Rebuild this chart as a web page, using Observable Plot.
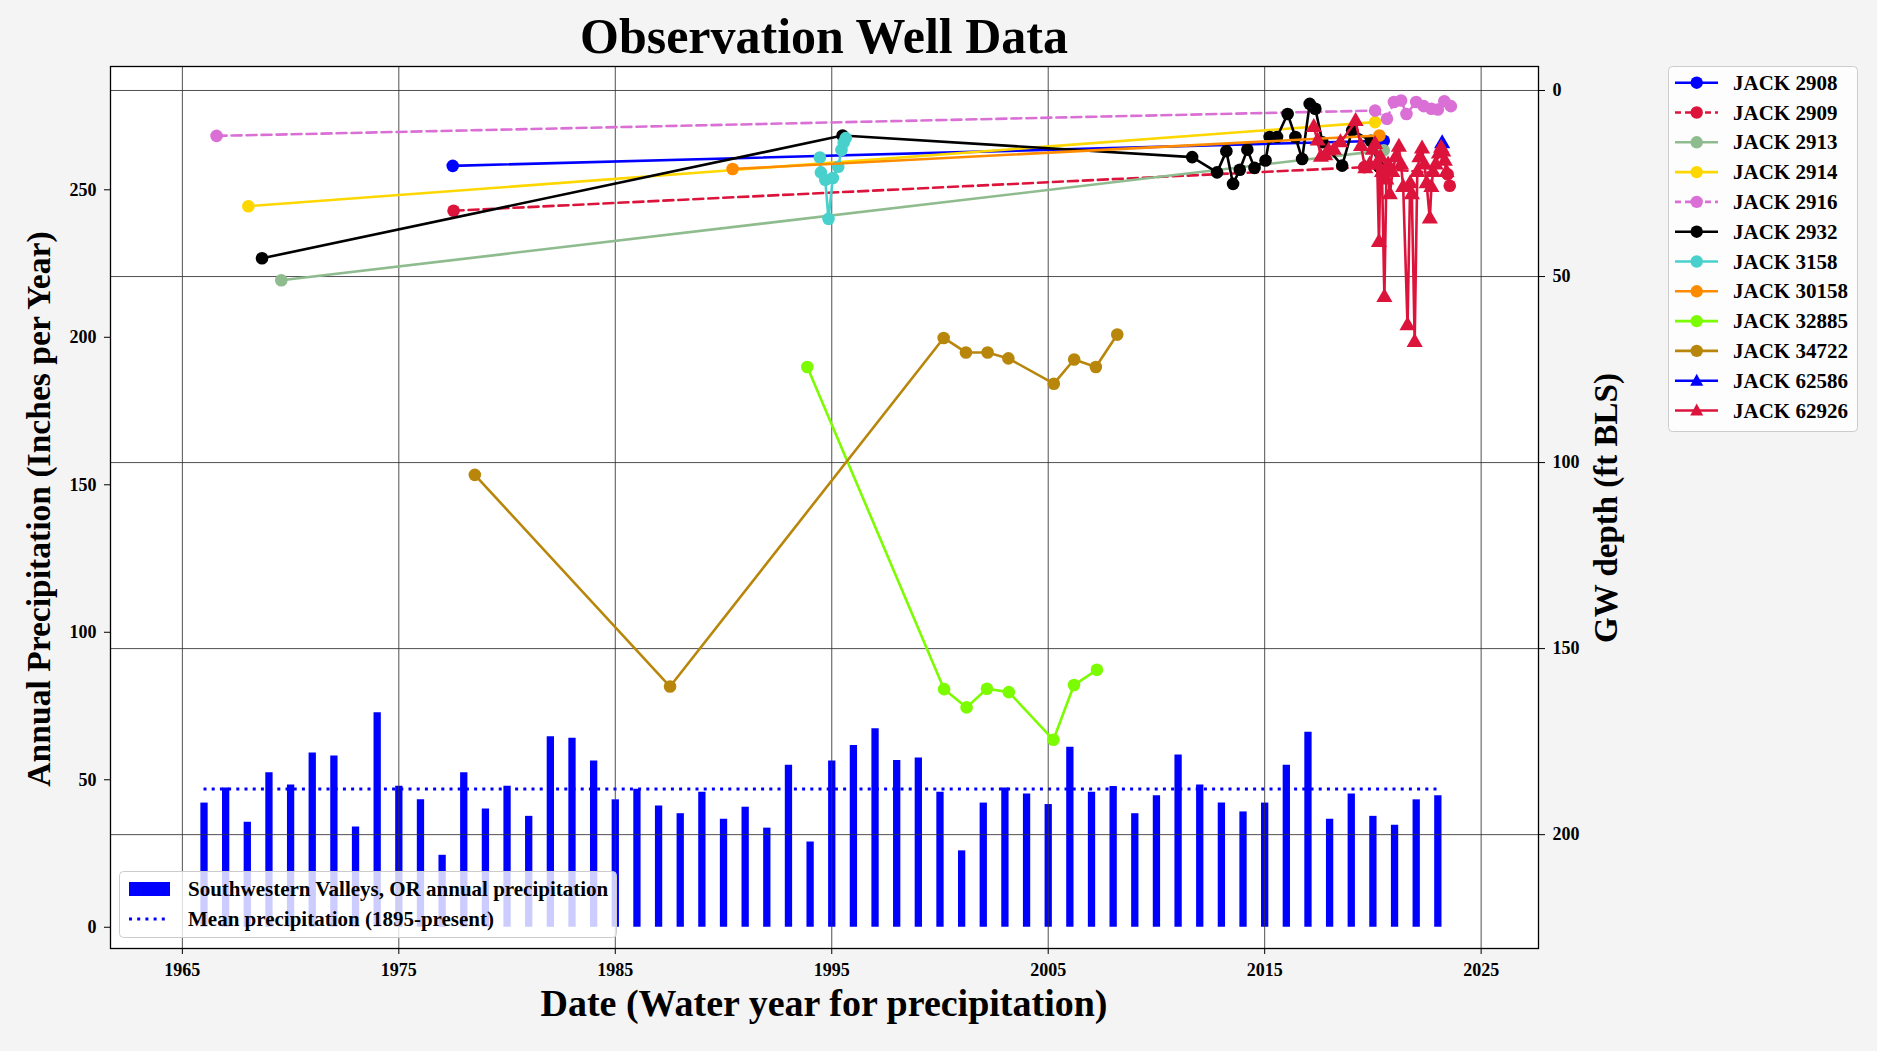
<!DOCTYPE html>
<html><head><meta charset="utf-8">
<script src="https://cdn.jsdelivr.net/npm/d3@7"></script>
<script src="https://cdn.jsdelivr.net/npm/@observablehq/plot@0.6"></script>
<style>
html,body{margin:0;padding:0;background:#f4f4f4;}
#wrap{position:relative;width:1877px;height:1051px;background:#f4f4f4;overflow:hidden;}
#wrap > svg{position:absolute;left:0;top:0;}
</style></head>
<body><div id="wrap"></div>
<script>
// ---------- data ----------
const precipYears = [1966,1967,1968,1969,1970,1971,1972,1973,1974,1975,1976,1977,1978,1979,1980,1981,1982,1983,1984,1985,1986,1987,1988,1989,1990,1991,1992,1993,1994,1995,1996,1997,1998,1999,2000,2001,2002,2003,2004,2005,2006,2007,2008,2009,2010,2011,2012,2013,2014,2015,2016,2017,2018,2019,2020,2021,2022,2023];
const precipValues = [42.1,47.2,35.6,52.4,48.2,59.1,58.1,34.0,72.7,47.8,
  43.2,24.4,52.4,40.1,47.8,37.6,64.6,64.1,56.4,43.2,
  46.8,41.1,38.5,45.8,36.6,40.7,33.6,54.9,28.9,56.4,
  61.6,67.3,56.5,57.4,45.8,25.9,42.1,47.2,45.2,41.6,
  61.0,45.8,47.7,38.5,44.6,58.4,48.2,42.1,39.1,42.1,
  54.9,66.1,36.6,45.2,37.6,34.6,43.2,44.6];
const meanPrecip = 46.9;

// well data: [decimal year, depth ft BLS]
const jack2908 = [[1977.49,20.25],[2020.5,13.5]];
const jack2909 = [[1977.53,32.3],[2019.6,20.6],[2023.45,22.5],[2023.55,25.6]];
const jack2913 = [[1969.57,51.0],[2020.5,16.1]];
const jack2914 = [[1968.05,31.1],[2020.1,8.5]];
const jack2916 = [[1966.58,12.2],[2020.1,5.4],[2020.65,7.6],[2020.97,3.1],[2021.3,2.7],[2021.55,6.3],[2022.0,3.1],[2022.35,4.2],[2022.7,4.9],[2023.0,5.1],[2023.3,2.9],[2023.6,4.2]];
const jack2932 = [[1968.68,45.1],[1995.5,12.1],[2011.65,17.9],[2012.8,22.0],[2013.23,16.3],[2013.54,25.1],[2013.85,21.3],[2014.2,15.9],[2014.53,20.8],[2015.04,18.8],[2015.23,12.5],[2015.57,12.5],[2016.06,6.3],[2016.42,12.5],[2016.73,18.4],[2017.08,3.6],[2017.34,4.9],[2017.67,13.9],[2018.58,20.2],[2019.04,10.75],[2019.9,13.5],[2020.3,20.6]];
const jack3158 = [[1994.45,18.0],[1994.5,22.0],[1994.7,24.0],[1994.85,34.5],[1995.05,23.5],[1995.3,20.5],[1995.45,16.0],[1995.55,14.0],[1995.65,12.8]];
const jack30158 = [[1990.42,21.1],[2020.3,12.1]];
const jack32885 = [[1993.87,74.3],[2000.19,160.9],[2001.23,165.8],[2002.17,160.8],[2003.18,161.7],[2005.24,174.5],[2006.19,159.8],[2007.25,155.7]];
const jack34722 = [[1978.51,103.3],[1987.53,160.2],[2000.17,66.5],[2001.2,70.4],[2002.2,70.4],[2003.16,72.0],[2005.26,78.8],[2006.2,72.3],[2007.2,74.3],[2008.19,65.6]];
const jack62586 = [[2023.2,14.3]];
const jack62926 = [[2017.27,9.9],[2017.45,13.5],[2017.6,17.9],[2017.8,17.5],[2017.95,16.2],[2018.2,16.0],[2018.5,14.0],[2019.2,8.3],[2019.45,15.0],[2019.65,21.0],[2019.85,20.0],[2020.0,16.0],[2020.1,14.5],[2020.2,20.0],[2020.28,40.8],[2020.35,18.0],[2020.42,22.0],[2020.53,55.6],[2020.62,24.0],[2020.7,20.0],[2020.78,28.0],[2020.9,22.0],[2021.05,18.0],[2021.2,15.2],[2021.3,20.0],[2021.4,26.0],[2021.6,63.2],[2021.72,25.0],[2021.8,28.0],[2021.93,67.7],[2022.05,22.0],[2022.15,18.0],[2022.27,15.7],[2022.38,20.0],[2022.48,25.0],[2022.63,34.5],[2022.7,26.0],[2022.78,22.0],[2022.9,20.0],[2023.05,17.0],[2023.15,15.5],[2023.25,16.5],[2023.32,19.0],[2023.4,22.0]];

const wellNames = ["JACK 2908","JACK 2909","JACK 2913","JACK 2914","JACK 2916","JACK 2932","JACK 3158","JACK 30158","JACK 32885","JACK 34722","JACK 62586","JACK 62926"];
const wellSeries = [jack2908,jack2909,jack2913,jack2914,jack2916,jack2932,jack3158,jack30158,jack32885,jack34722,jack62586,jack62926];

const xTicks = [1965,1975,1985,1995,2005,2015,2025];
const precipTicks = [0,50,100,150,200,250];
const depthTicks = [0,50,100,150,200];

// ---------- styles ----------
const wellColors = ["#0000ff","#dc143c","#8fbc8f","#ffd700","#da70d6","#000000","#48d1cc","#ff8c00","#7cfc00","#b8860b","#0000ff","#dc143c"];
const wellDash = [null,"10,5",null,null,"10,5",null,null,null,null,null,null,null];
const wellSymbol = ["circle","circle","circle","circle","circle","circle","circle","circle","circle","circle","triangle","triangle"];

const W = 1877, H = 1051;
const M = {left:110, right:339, top:66, bottom:103};
const FONT = "'Liberation Serif','Times New Roman',serif";
const xDomain = [1961.68, 2027.65];
const style = {background:"transparent", fontFamily:FONT, fontWeight:"bold", fontSize:"18px", color:"black", overflow:"visible"};

const precip = precipYears.map((y,i)=>({year:y, value:precipValues[i]}));
const meanRow = [{y:meanPrecip, x1:d3.min(precipYears), x2:d3.max(precipYears)}];

// Plot A: precipitation (left axis)
const plotA = Plot.plot({
  width:W, height:H, marginLeft:M.left, marginRight:M.right, marginTop:M.top, marginBottom:M.bottom,
  style,
  x:{domain:xDomain},
  y:{domain:[-7.2, 291.8]},
  marks:[
    Plot.frame({fill:"white", stroke:null}),
    Plot.ruleX(precip, {x:"year", y1:0, y2:"value", stroke:"#0000ff", strokeWidth:7.3}),
    Plot.ruleY(meanRow, {y:"y", x1:"x1", x2:"x2", stroke:"#0000ff", strokeWidth:3, strokeDasharray:"3,5.2"}),
    Plot.axisY({ticks:precipTicks, anchor:"left", tickSize:6, tickPadding:8, label:null, fontSize:18, fontWeight:"bold"}),
    Plot.axisX({ticks:xTicks, anchor:"bottom", tickSize:6, tickPadding:9, tickFormat:"d", label:null, fontSize:18, fontWeight:"bold"})
  ]
});

// Plot B: groundwater depth (right axis, inverted)
const wellMarks = [];
wellSeries.forEach((s,i)=>{
  wellMarks.push(Plot.line(s, {x:d=>d[0], y:d=>d[1], stroke:wellColors[i], strokeWidth:2.6, strokeDasharray:wellDash[i]||undefined}));
  wellMarks.push(Plot.dot(s, {x:d=>d[0], y:d=>d[1], fill:wellColors[i], stroke:null, r: wellSymbol[i]==="triangle"?6:6.3, symbol:wellSymbol[i]}));
});
const plotB = Plot.plot({
  width:W, height:H, marginLeft:M.left, marginRight:M.right, marginTop:M.top, marginBottom:M.bottom,
  style,
  x:{domain:xDomain, axis:null},
  y:{domain:[-6.45, 230.6], reverse:true},
  marks:[
    Plot.gridX({ticks:xTicks, stroke:"#333", strokeOpacity:0.85, strokeWidth:1}),
    Plot.gridY({ticks:depthTicks, stroke:"#333", strokeOpacity:0.85, strokeWidth:1}),
    ...wellMarks,
    Plot.axisY({ticks:depthTicks, anchor:"right", tickSize:6, tickPadding:8, label:null, fontSize:18, fontWeight:"bold"}),
    Plot.frame({stroke:"black", strokeWidth:1.3})
  ]
});

const wrap = document.getElementById("wrap");
wrap.appendChild(plotA);
wrap.appendChild(plotB);

// ---------- titles, labels, legends ----------
const NS = "http://www.w3.org/2000/svg";
const over = document.createElementNS(NS,"svg");
over.setAttribute("width",W); over.setAttribute("height",H);
over.style.fontFamily = FONT; over.style.fontWeight = "bold";
wrap.appendChild(over);
function el(tag, attrs, parent){ const e=document.createElementNS(NS,tag); for(const k in attrs) e.setAttribute(k, attrs[k]); (parent||over).appendChild(e); return e; }
function txt(s, attrs){ const t = el("text", attrs); t.textContent = s; return t; }

txt("Observation Well Data", {x:824, y:53, "text-anchor":"middle", "font-size":50});
txt("Date (Water year for precipitation)", {x:824, y:1016, "text-anchor":"middle", "font-size":38});
txt("Annual Precipitation (Inches per Year)", {transform:"translate(50,509) rotate(-90)", "text-anchor":"middle", "font-size":33.6});
txt("GW depth (ft BLS)", {transform:"translate(1617,508) rotate(-90)", "text-anchor":"middle", "font-size":33});

// well legend
const L1 = {x:1668, y:66, w:189, h:365};
el("rect", {x:L1.x+0.5, y:L1.y+0.5, width:L1.w, height:L1.h, rx:4, fill:"white", "fill-opacity":0.8, stroke:"#cccccc"});
wellNames.forEach((n,i)=>{
  const cy = L1.y + 16.7 + i*29.8;
  el("line", {x1:L1.x+7, x2:L1.x+50, y1:cy, y2:cy, stroke:wellColors[i], "stroke-width":2.6, "stroke-dasharray": wellDash[i] ? "6,4" : "none"});
  if (wellSymbol[i]==="triangle") {
    const cx = L1.x+28.7;
    el("path", {d:`M${cx},${cy-7}L${cx+6.5},${cy+5}L${cx-6.5},${cy+5}Z`, fill:wellColors[i]});
  } else {
    el("circle", {cx:L1.x+28.7, cy, r:6.2, fill:wellColors[i]});
  }
  txt(n, {x:L1.x+65, y:cy+7, "font-size":21});
});

// precipitation legend
const L2 = {x:119, y:871, w:497, h:66};
el("rect", {x:L2.x+0.5, y:L2.y+0.5, width:L2.w, height:L2.h, rx:4, fill:"white", "fill-opacity":0.8, stroke:"#cccccc"});
el("rect", {x:L2.x+10, y:L2.y+11, width:41, height:14, fill:"#0000ff"});
txt("Southwestern Valleys, OR annual precipitation", {x:L2.x+69, y:L2.y+25, "font-size":21});
el("line", {x1:L2.x+10, x2:L2.x+51, y1:L2.y+48, y2:L2.y+48, stroke:"#0000ff", "stroke-width":3, "stroke-dasharray":"3,5.2"});
txt("Mean precipitation (1895-present)", {x:L2.x+69, y:L2.y+55, "font-size":21});
</script>
</body></html>
